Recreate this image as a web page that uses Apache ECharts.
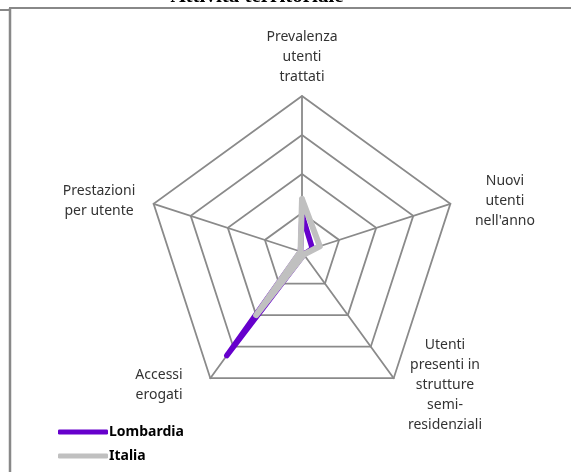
<!DOCTYPE html>
<html>
<head>
<meta charset="utf-8">
<script src="https://cdn.jsdelivr.net/npm/echarts@6/dist/echarts.min.js"></script>
<style>
  html, body { margin: 0; padding: 0; background: #fff; }
  #chart { width: 571px; height: 472px; }
</style>
</head>
<body>
<div id="chart"></div>
<script>
// assi del radar, in senso antiorario partendo dall'alto
const axisNames = [
  'Prevalenza\nutenti\ntrattati',
  'Prestazioni\nper utente',
  'Accessi\nerogati',
  'Utenti\npresenti in\nstrutture\nsemi-\nresidenziali',
  "Nuovi\nutenti\nnell'anno"
]
const lombardia = [0.24, 0.01, 0.82, 0.02, 0.07]
const italia = [0.34, 0.01, 0.50, 0.02, 0.12]

const chartDom = document.getElementById('chart')
const myChart = echarts.init(chartDom)

const gridColor = '#8a8a8a'
const labelFont = '"Noto Sans", sans-serif'

const option = {
  animation: false,
  graphic: [
    // titolo tagliato in alto
    {
      type: 'text',
      style: {
        text: 'Attività territoriale',
        x: 257, y: 7,
        align: 'center', verticalAlign: 'bottom',
        font: 'bold 21px "Liberation Serif", serif',
        fill: '#000'
      }
    },
    // cornice dell'area grafico
    { type: 'line', shape: { x1: 9, y1: 8, x2: 571, y2: 8 }, style: { stroke: '#888', lineWidth: 2 } },
    { type: 'line', shape: { x1: 10, y1: 8, x2: 10, y2: 472 }, style: { stroke: '#888', lineWidth: 2.5 } },
    { type: 'line', shape: { x1: 0, y1: 10, x2: 10, y2: 10 }, style: { stroke: '#888', lineWidth: 2 } }
  ],
  legend: {
    orient: 'vertical',
    left: 53,
    top: 420,
    itemWidth: 50,
    itemHeight: 5,
    itemGap: 10,
    icon: 'roundRect',
    textStyle: { fontFamily: labelFont, fontWeight: 'bold', fontSize: 14, color: '#000', padding: [0, 0, 0, -4] },
    data: ['Lombardia', 'Italia']
  },
  radar: {
    center: [302, 252],
    radius: 156,
    startAngle: 90,
    shape: 'polygon',
    splitNumber: 4,
    indicator: axisNames.map(name => ({ name: name, min: 0, max: 1 })),
    nameGap: 9,
    axisName: {
      formatter: value => value.split('\n').map(l => '{c|' + l + '}').join('\n'),
      rich: {
        c: { width: 92, align: 'center', lineHeight: 20, fontSize: 14, fontFamily: labelFont, color: '#333' }
      }
    },
    axisLine: { lineStyle: { color: gridColor, width: 1.8 } },
    splitLine: { lineStyle: { color: gridColor, width: 1.8 } },
    splitArea: { show: false },
    axisTick: { show: false },
    axisLabel: { show: false }
  },
  series: [
    {
      type: 'radar',
      symbol: 'none',
      data: [
        {
          name: 'Lombardia',
          value: lombardia,
          itemStyle: { color: '#6600cc' },
          lineStyle: { color: '#6600cc', width: 5.5, cap: 'round', join: 'round' }
        },
        {
          name: 'Italia',
          value: italia,
          itemStyle: { color: '#c0c0c0' },
          lineStyle: { color: '#c0c0c0', width: 6, cap: 'round', join: 'round' }
        }
      ]
    }
  ]
}

option && myChart.setOption(option)
</script>
</body>
</html>
